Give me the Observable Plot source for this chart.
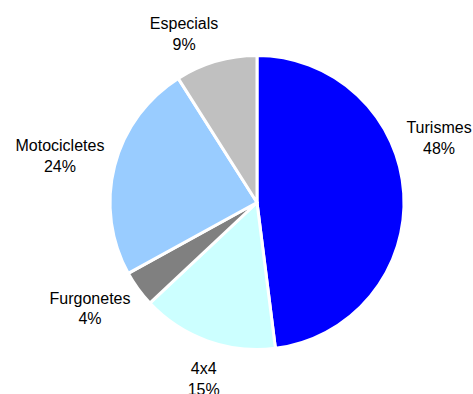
<!DOCTYPE html>
<html>
<head>
<meta charset="utf-8">
<script src="https://cdn.jsdelivr.net/npm/d3@7"></script>
<script src="https://cdn.jsdelivr.net/npm/@observablehq/plot@0.6"></script>
<style>
  html, body { margin: 0; padding: 0; background: #ffffff; }
</style>
</head>
<body>
<div id="chart"></div>
<script>
// ---- data ----
const categories = ["Turismes", "4x4", "Furgonetes", "Motocicletes", "Especials"];
const shares = [48, 15, 4, 24, 9];
const colors = ["#0000FF", "#CCFFFF", "#808080", "#99CCFF", "#C0C0C0"];

// ---- layout ----
const W = 473, H = 394;
const CX = 257, CY = 202.5, R = 147;           // pie centre and radius in pixels
const labelAngle = [69.9, 197.1, 238.1, 283.8, 336.7]; // degrees clockwise from top
const labelDist  = [1.315, 1.246, 1.342, 1.384, 1.263]; // in pie radii

const rows = categories.map((c, i) => ({category: c, share: shares[i]}));
const arcs = d3.pie().sort(null).value(d => d.share)(rows);

const labels = rows.map((d, i) => {
  const a = labelAngle[i] * Math.PI / 180;
  return {
    category: d.category,
    text: `${d.category}\n${d.share}%`,
    x: labelDist[i] * Math.sin(a),
    y: labelDist[i] * Math.cos(a)
  };
});

const chart = Plot.plot({
  width: W,
  height: H,
  margin: 0,
  style: {background: "#ffffff", fontFamily: "'Liberation Sans', Arial, sans-serif", fontSize: "16px", color: "#000"},
  x: {domain: [-CX / R, (W - CX) / R], range: [0, W], axis: null},
  y: {domain: [-(H - CY) / R, CY / R], range: [H, 0], axis: null},
  color: {domain: categories, range: colors},
  marks: [
    Plot.dot(arcs, {
      x: () => 0,
      y: () => 0,
      fill: d => d.data.category,
      render(index, scales, values) {
        const cx = values.x[index[0]];
        const cy = values.y[index[0]];
        const r = scales.x(1) - scales.x(0);
        const arc = d3.arc().innerRadius(0).outerRadius(r);
        const g = d3.create("svg:g").attr("transform", `translate(${cx},${cy})`);
        g.selectAll("path")
          .data(Array.from(index))
          .join("path")
          .attr("d", i => arc(arcs[i]))
          .attr("fill", i => values.fill[i])
          .attr("stroke", "#ffffff")
          .attr("stroke-width", 3)
          .attr("stroke-linejoin", "round");
        return g.node();
      }
    }),
    Plot.text(labels, {
      x: "x",
      y: "y",
      text: "text",
      fill: "#000000",
      fontSize: 16,
      lineHeight: 1.3,
      textAnchor: "middle"
    })
  ]
});

document.getElementById("chart").appendChild(chart);
</script>
</body>
</html>
